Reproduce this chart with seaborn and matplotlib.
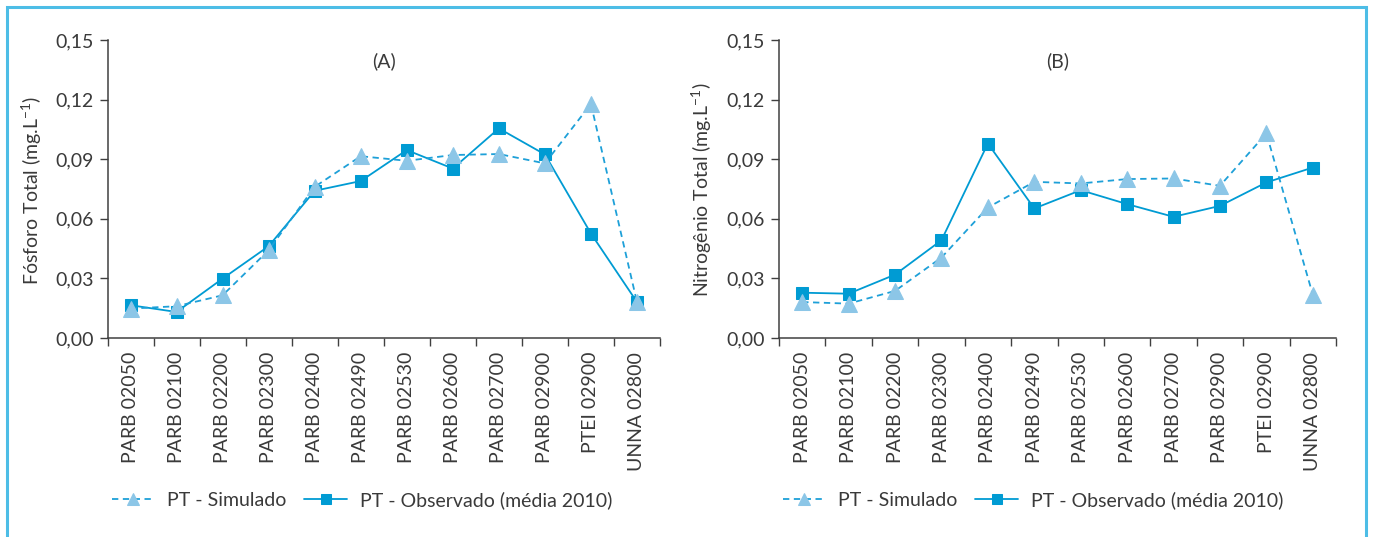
import numpy as np
import pandas as pd
import matplotlib
matplotlib.use("Agg")
import matplotlib.pyplot as plt
from matplotlib.patches import Rectangle
from matplotlib.ticker import FixedLocator, FuncFormatter
import seaborn as sns

# estações de monitoramento
estacoes = ["PARB 02050", "PARB 02100", "PARB 02200", "PARB 02300", "PARB 02400",
            "PARB 02490", "PARB 02530", "PARB 02600", "PARB 02700", "PARB 02900",
            "PTEI 02900", "UNNA 02800"]

# (A) fósforo total
fosforo_sim = [0.0148, 0.0160, 0.0215, 0.0442, 0.0761, 0.0915, 0.0892, 0.0921, 0.0926, 0.0879, 0.1178, 0.0181]
fosforo_obs = [0.0165, 0.0131, 0.0299, 0.0462, 0.0741, 0.0790, 0.0946, 0.0853, 0.1055, 0.0924, 0.0526, 0.0181]

# (B) nitrogênio total
nitrogenio_sim = [0.0181, 0.0173, 0.0237, 0.0405, 0.0657, 0.0786, 0.0778, 0.0800, 0.0803, 0.0766, 0.1030, 0.0218]
nitrogenio_obs = [0.0228, 0.0223, 0.0319, 0.0492, 0.0979, 0.0652, 0.0744, 0.0674, 0.0610, 0.0665, 0.0783, 0.0858]

lbl_sim = "PT - Simulado"
lbl_obs = "PT - Observado (média 2010)"

sns.set_style("white")
plt.rcParams['font.family'] = ['Lato', 'DejaVu Sans']
txt_color = '#3a3a3a'
plt.rcParams['text.color'] = txt_color
plt.rcParams['xtick.color'] = txt_color
plt.rcParams['ytick.color'] = txt_color

c_obs = '#009bd3'
c_sim_line = '#1ea0d8'
c_sim_mk = '#8cc6e7'

fig = plt.figure(figsize=(13.73, 5.37), dpi=100)

# moldura azul
fig.patches.append(Rectangle((7 / 1373, -0.05), 1359 / 1373, 1.05 - 7 / 537,
                             transform=fig.transFigure, fill=False,
                             edgecolor='#4dbde6', linewidth=2.2))

paineis = [
    dict(pos=[107.5 / 1373, 1 - 338 / 537, 552.5 / 1373, 298 / 537], sim=fosforo_sim, obs=fosforo_obs,
         ylab="Fósforo Total (mg.L$^{\\mathregular{-1}}$)", titulo="(A)", ylab_x=32, leg_x=362),
    dict(pos=[779 / 1373, 1 - 338 / 537, 557 / 1373, 298 / 537], sim=nitrogenio_sim, obs=nitrogenio_obs,
         ylab="Nitrogênio Total (mg.L$^{\\mathregular{-1}}$)", titulo="(B)", ylab_x=702, leg_x=1033),
]

for p in paineis:
    ax = fig.add_axes(p['pos'])
    df = pd.DataFrame({'x': np.arange(len(estacoes)), 'sim': p['sim'], 'obs': p['obs']})

    sns.lineplot(data=df, x='x', y='sim', ax=ax, color=c_sim_line, linestyle=(0, (3.5, 2.5)),
                 linewidth=1.3, marker='^', markersize=11, markerfacecolor=c_sim_mk,
                 markeredgecolor=c_sim_mk, label=lbl_sim, sort=False, zorder=3)
    sns.lineplot(data=df, x='x', y='obs', ax=ax, color=c_obs, linewidth=1.3,
                 marker='s', markersize=9, markerfacecolor=c_obs, markeredgecolor=c_obs,
                 label=lbl_obs, sort=False, zorder=2)

    ax.set_xlim(-0.5, len(estacoes) - 0.5)
    ax.set_ylim(0, 0.15)
    ax.set_yticks([0, 0.03, 0.06, 0.09, 0.12, 0.15])
    ax.yaxis.set_major_formatter(FuncFormatter(lambda v, pos: f"{v:.2f}".replace('.', ',')))
    ax.set_xticks(np.arange(len(estacoes)))
    ax.set_xticklabels(estacoes, rotation=90)
    ax.xaxis.set_minor_locator(FixedLocator(np.arange(-0.5, len(estacoes), 1.0)))
    ax.tick_params(axis='x', which='major', length=0, pad=10, labelsize=14)
    ax.tick_params(axis='x', which='minor', length=6, width=1, color='#404040', direction='out', bottom=True)
    ax.tick_params(axis='y', which='major', length=6, width=1, color='#404040', direction='out', left=True,
                   labelsize=14, pad=4)

    for s in ['top', 'right']:
        ax.spines[s].set_visible(False)
    for s in ['left', 'bottom']:
        ax.spines[s].set_color('#404040')
        ax.spines[s].set_linewidth(1.1)

    ax.set_xlabel("")
    ax.set_ylabel("")
    ax.text(0.5, 0.93, p['titulo'], transform=ax.transAxes, ha='center', va='center', fontsize=14)
    fig.text(p['ylab_x'] / 1373, 1 - 190 / 537, p['ylab'], rotation=90, ha='center', va='center',
             fontsize=14)

    ax.legend_.remove()
    h, l = ax.get_legend_handles_labels()
    fig.legend(h, l, loc='center', bbox_to_anchor=(p['leg_x'] / 1373, 1 - 500 / 537), ncol=2,
               frameon=False, fontsize=14, handlelength=2.2, columnspacing=0.9, handletextpad=0.65,
               markerscale=0.85)

fig.savefig("out.png", dpi=100)
